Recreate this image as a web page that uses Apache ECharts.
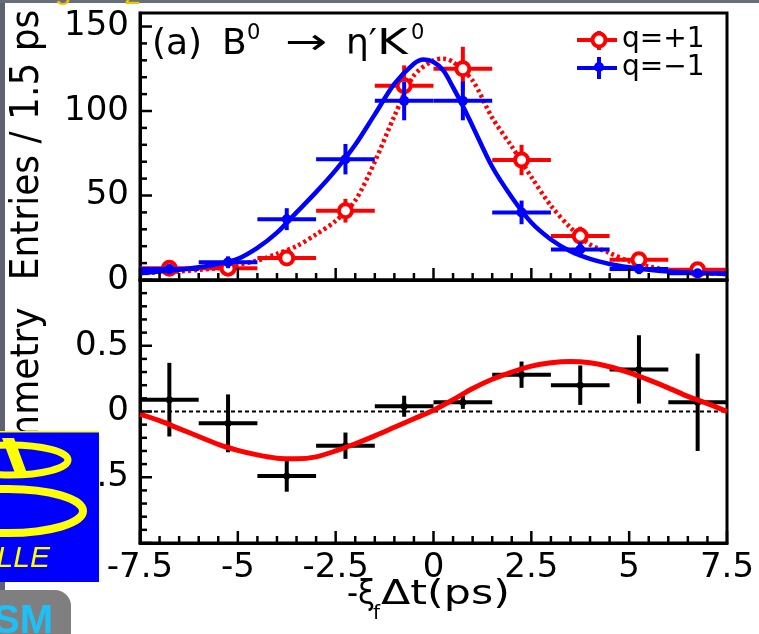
<!DOCTYPE html>
<html><head><meta charset="utf-8">
<script src="https://cdn.jsdelivr.net/npm/echarts@6/dist/echarts.min.js"></script>
<style>html,body{margin:0;padding:0;background:#fff;}#c{width:759px;height:634px;}</style>
</head><body><div id="c"></div><script>
// ---- data ----
const binCenters   = [-6.75,-5.25,-3.75,-2.25,-0.75,0.75,2.25,3.75,5.25,6.75];
const binHalfWidth = [0.75,0.75,0.75,0.75,0.75,0.75,0.75,0.75,0.75,0.75];
const qPlusEntries = [7,7,13,41,115,125,71,26,12,6];
const qPlusErr     = [3,3,4,7,12,13,9,5.5,4,3];
const qMinusEntries= [6.5,10.5,36,71.5,106,106,40,18,6.5,4];
const qMinusErr    = [3,3.5,6.5,9,11.5,11.5,7,4.5,3,2.5];
const asymValues   = [0.09,-0.09,-0.49,-0.26,0.04,0.07,0.28,0.2,0.32,0.07];
const asymErr      = [0.28,0.22,0.12,0.1,0.08,0.05,0.1,0.15,0.26,0.37];

const blueFitX = [-7.5,-7,-6.5,-6,-5.5,-5,-4.5,-4,-3.5,-3,-2.5,-2,-1.5,-1,-0.5,-0.25,0,0.25,0.5,0.75,1,1.5,2,2.5,3,3.5,4,4.5,5,5.5,6,6.5,7,7.5];
const blueFitY = [4,5,6,7.5,9.5,12.5,19,28,40,52,65,80,98,116,128,130.5,129,124,114,103,91,67,49,34,24,17,12.5,9.5,7.5,6,5,4.5,4,3.5];
const redFitX  = [-7.5,-7,-6.5,-6,-5.5,-5,-4.5,-4,-3.5,-3,-2.5,-2,-1.5,-1,-0.5,0,0.25,0.5,1,1.5,2,2.5,3,3.5,4,4.5,5,5.5,6,6.5,7,7.5];
const redFitY  = [4,4.5,5,6,7,9,11.5,15.5,20,27,35,47,70,97,121,130,131,129,118,96,79,61,44,31,21,16,11,8,6,5,4,3.5];
const asymFitX = [-7.5,-7,-6.5,-6,-5.5,-5,-4.5,-4,-3.5,-3,-2.5,-2,-1.5,-1,-0.5,0,0.5,1,1.5,2,2.5,3,3.5,4,4.5,5,5.5,6,6.5,7,7.5];
const asymFitY = [-0.02,-0.07,-0.13,-0.19,-0.25,-0.295,-0.33,-0.355,-0.36,-0.345,-0.30,-0.245,-0.185,-0.12,-0.055,0.01,0.09,0.175,0.245,0.30,0.345,0.37,0.38,0.37,0.34,0.295,0.24,0.18,0.115,0.06,0.0];
const zeroLineX = [-7.5,7.5];
const zeroLineY = [0,0];

// ---- tick positions ----
const xMajorTicks = [-7.5,-5,-2.5,0,2.5,5,7.5];
const xMinorTicks = [-7,-6.5,-6,-5.5,-4.5,-4,-3.5,-3,-2,-1.5,-1,-0.5,0.5,1,1.5,2,3,3.5,4,4.5,5.5,6,6.5,7];
const topYMajorTicks = [0,50,100,150];
const topYMinorTicks = [10,20,30,40,60,70,80,90,110,120,130,140];
const botYMajorTicks = [-1,-0.5,0,0.5,1];
const botYMinorTicks = [-0.9,-0.8,-0.7,-0.6,-0.4,-0.3,-0.2,-0.1,0.1,0.2,0.3,0.4,0.6,0.7,0.8,0.9];

// ---- build ----
const zip = (a,b)=>a.map((v,i)=>[v,b[i]]);
const errData = (y,ey)=>binCenters.map((x,i)=>[x,y[i],binHalfWidth[i],ey[i]]);
function errBars(color,lw){
  return function(params,api){
    const x=api.value(0),y=api.value(1),ex=api.value(2),ey=api.value(3);
    const a=api.coord([x-ex,y]),b=api.coord([x+ex,y]),c=api.coord([x,y-ey]),d=api.coord([x,y+ey]);
    return {type:'group',children:[
      {type:'line',shape:{x1:a[0],y1:a[1],x2:b[0],y2:b[1]},style:{stroke:color,lineWidth:lw}},
      {type:'line',shape:{x1:c[0],y1:c[1],x2:d[0],y2:d[1]},style:{stroke:color,lineWidth:lw}}
    ]};
  };
}
// inward tick marks as thin rect symbols placed on the axes by the library
function xTicks(xi,yi,yBase,vals,len){
  return {type:'scatter',xAxisIndex:xi,yAxisIndex:yi,clip:false,silent:true,z:20,
    data:vals.map(v=>[v,yBase]),symbol:'rect',symbolSize:[2.5,len],symbolOffset:[0,-len/2],
    itemStyle:{color:'#000',opacity:1}};
}
function yTicks(xi,yi,vals,len){
  return {type:'scatter',xAxisIndex:xi,yAxisIndex:yi,clip:false,silent:true,z:20,
    data:vals.map(v=>[-7.5,v]),symbol:'rect',symbolSize:[len,2.5],symbolOffset:[len/2,0],
    itemStyle:{color:'#000',opacity:1}};
}
const FONT='DejaVu Sans';
const black='#000';
function xAx(grid,labels){
  return {type:'value',gridIndex:grid,min:-7.5,max:7.5,interval:2.5,
    axisLine:{show:true,onZero:false,lineStyle:{color:black,width:3}},
    axisTick:{show:false},
    splitLine:{show:false},
    axisLabel:{show:labels,fontFamily:FONT,fontSize:34,color:black,margin:8}};
}
function yAx(grid,min,max,interval,hideMin,hideMax){
  return {type:'value',gridIndex:grid,position:'left',min:min,max:max,interval:interval,
    axisLine:{show:true,onZero:false,lineStyle:{color:black,width:3}},
    axisTick:{show:false},
    splitLine:{show:false},
    axisLabel:{show:true,fontFamily:FONT,fontSize:34,color:black,margin:11,
      showMinLabel:!hideMin,showMaxLabel:!hideMax}};
}

const chart=echarts.init(document.getElementById('c'));
const yellow='#ffff00';
chart.setOption({
  animation:false,
  grid:[
    {left:140,top:13,width:587,height:267,show:true,borderColor:black,borderWidth:3},
    {left:140,top:280,width:587,height:263,show:true,borderColor:black,borderWidth:3}
  ],
  xAxis:[xAx(0,false),xAx(1,true)],
  yAxis:[
    yAx(0,0,158,50,false,true),
    yAx(1,-1,1,0.5,true,true)
  ],
  series:[
    {type:'line',xAxisIndex:0,yAxisIndex:0,data:zip(redFitX,redFitY),smooth:0.3,showSymbol:false,
      lineStyle:{color:'#ff0000',width:4.5,type:[3,3]},z:2},
    {type:'custom',xAxisIndex:0,yAxisIndex:0,data:errData(qPlusEntries,qPlusErr),renderItem:errBars('#ff0000',4),z:3},
    {type:'scatter',xAxisIndex:0,yAxisIndex:0,data:zip(binCenters,qPlusEntries),symbol:'circle',symbolSize:13,
      itemStyle:{color:'#fff',borderColor:'#ff0000',borderWidth:4,opacity:1},z:4},
    {type:'line',xAxisIndex:0,yAxisIndex:0,data:zip(blueFitX,blueFitY),smooth:0.3,showSymbol:false,
      lineStyle:{color:'#0000ff',width:4.5},z:5},
    {type:'custom',xAxisIndex:0,yAxisIndex:0,data:errData(qMinusEntries,qMinusErr),renderItem:errBars('#0000ff',4),z:6},
    {type:'scatter',xAxisIndex:0,yAxisIndex:0,data:zip(binCenters,qMinusEntries),symbol:'circle',symbolSize:10,
      itemStyle:{color:'#0000ff',opacity:1},z:7},
    {type:'line',xAxisIndex:1,yAxisIndex:1,data:zip(zeroLineX,zeroLineY),showSymbol:false,
      lineStyle:{color:black,width:2,type:[4,3]},z:2},
    {type:'custom',xAxisIndex:1,yAxisIndex:1,data:errData(asymValues,asymErr),renderItem:errBars(black,4),z:3},
    {type:'scatter',xAxisIndex:1,yAxisIndex:1,data:zip(binCenters,asymValues),symbol:'circle',symbolSize:7,
      itemStyle:{color:black,opacity:1},z:4},
    {type:'line',xAxisIndex:1,yAxisIndex:1,data:zip(asymFitX,asymFitY),smooth:0.3,showSymbol:false,
      lineStyle:{color:'#ff0000',width:5},z:5},
    xTicks(0,0,0,xMajorTicks,12),
    xTicks(0,0,0,xMinorTicks,7),
    yTicks(0,0,topYMajorTicks,12),
    yTicks(0,0,topYMinorTicks,7),
    xTicks(1,1,-1,xMajorTicks,12),
    xTicks(1,1,-1,xMinorTicks,7),
    yTicks(1,1,botYMajorTicks,12),
    yTicks(1,1,botYMinorTicks,7)
  ],
  graphic:[
    {type:'rect',shape:{x:0,y:0,width:5,height:634},style:{fill:'#5d6370'},z:50},
    {type:'rect',shape:{x:0,y:0,width:759,height:3},style:{fill:'#676d7b'},z:50},
    {type:'text',x:55,y:6,style:{text:'g',fontFamily:'Liberation Sans',fontSize:30,fill:'#f2c200',align:'left',verticalAlign:'bottom'},z:51},
    {type:'text',x:124,y:11,style:{text:'2',fontFamily:'Liberation Sans',fontSize:30,fill:'#f2c200',align:'left',verticalAlign:'bottom'},z:51},
    {type:'text',x:28,y:145,rotation:Math.PI/2,scaleY:1.1,style:{text:'Entries / 1.5 ps',fontFamily:FONT,fontSize:36,fill:black,align:'center',verticalAlign:'middle'},z:10},
    {type:'text',x:28,y:411,rotation:Math.PI/2,scaleY:1.1,style:{text:'Asymmetry',fontFamily:FONT,fontSize:36,fill:black,align:'center',verticalAlign:'middle'},z:10},
    {type:'text',x:347,y:595,scaleX:0.9,style:{text:'-ξ',fontFamily:FONT,fontSize:34,fill:black,align:'left',verticalAlign:'middle'},z:10},
    {type:'text',x:373,y:614,style:{text:'f',fontFamily:FONT,fontSize:20,fill:black,align:'left',verticalAlign:'middle'},z:10},
    {type:'text',x:381,y:595,scaleX:1.26,style:{text:'Δt(ps)',fontFamily:FONT,fontSize:34,fill:black,align:'left',verticalAlign:'middle'},z:10},
    {type:'text',x:152,y:45,style:{text:'(a)',fontFamily:FONT,fontSize:36,fill:black,align:'left',verticalAlign:'middle'},z:10},
    {type:'text',x:222,y:45,style:{text:'B',fontFamily:FONT,fontSize:36,fill:black,align:'left',verticalAlign:'middle'},z:10},
    {type:'text',x:247,y:34,style:{text:'0',fontFamily:FONT,fontSize:21,fill:black,align:'left',verticalAlign:'middle'},z:10},
    {type:'text',x:285,y:45,scaleX:1.4,style:{text:'→',fontFamily:FONT,fontSize:36,fill:black,align:'left',verticalAlign:'middle'},z:10},
    {type:'text',x:346,y:45,style:{text:'η′',fontFamily:FONT,fontSize:36,fill:black,align:'left',verticalAlign:'middle'},z:10},
    {type:'text',x:377,y:45,scaleX:1.3,style:{text:'K',fontFamily:FONT,fontSize:36,fill:black,align:'left',verticalAlign:'middle'},z:10},
    {type:'text',x:411,y:34,style:{text:'0',fontFamily:FONT,fontSize:21,fill:black,align:'left',verticalAlign:'middle'},z:10},
    {type:'line',shape:{x1:577,y1:40,x2:617,y2:40},style:{stroke:'#ff0000',lineWidth:4},z:10},
    {type:'line',shape:{x1:599,y1:31,x2:599,y2:50},style:{stroke:'#ff0000',lineWidth:4},z:10},
    {type:'circle',shape:{cx:599,cy:40,r:6.5},style:{fill:'#fff',stroke:'#ff0000',lineWidth:4},z:11},
    {type:'text',x:622,y:40,style:{text:'q=+1',fontFamily:FONT,fontSize:28,fill:black,align:'left',verticalAlign:'middle'},z:10},
    {type:'line',shape:{x1:577,y1:68,x2:617,y2:68},style:{stroke:'#0000ff',lineWidth:4},z:10},
    {type:'line',shape:{x1:599,y1:57,x2:599,y2:79},style:{stroke:'#0000ff',lineWidth:4},z:10},
    {type:'circle',shape:{cx:599,cy:67,r:5},style:{fill:'#0000ff'},z:11},
    {type:'text',x:622,y:68,style:{text:'q=\u22121',fontFamily:FONT,fontSize:28,fill:black,align:'left',verticalAlign:'middle'},z:10},
    {type:'rect',shape:{x:0,y:432,width:99,height:150},style:{fill:'#0000ff'},z:100},
    {type:'rect',shape:{x:0,y:431,width:99,height:1.5},style:{fill:yellow},z:101},
    {type:'ellipse',shape:{cx:10,cy:460,rx:58,ry:15},style:{fill:null,stroke:yellow,lineWidth:7},z:101},
    {type:'polygon',shape:{points:[[2,438],[14,438],[28,476],[16,476]]},style:{fill:yellow},z:101},
    {type:'ellipse',shape:{cx:8,cy:511,rx:75,ry:22},style:{fill:null,stroke:yellow,lineWidth:8},z:101},
    {type:'text',x:50,y:559,style:{text:'ELLE',fontFamily:'Liberation Sans',fontStyle:'italic',fontSize:30,fill:yellow,align:'right',verticalAlign:'middle'},z:101},
    {type:'rect',shape:{x:-20,y:590,width:91,height:80,r:16},style:{fill:'#7f7f7f'},z:100},
    {type:'text',x:-7,y:602,style:{text:'SM',fontFamily:'Liberation Sans',fontWeight:'bold',fontSize:40,fill:'#1ec0f5',align:'left',verticalAlign:'top'},z:101}
  ]
});
</script></body></html>
